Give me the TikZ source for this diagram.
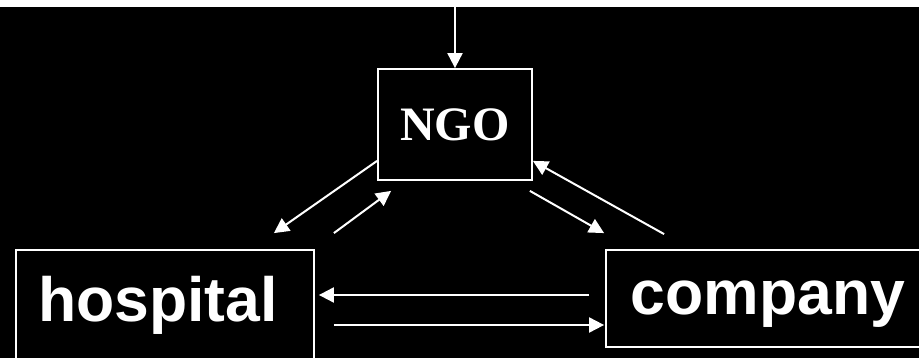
\documentclass[tikz,border=0pt]{standalone}
\usepackage{fontspec}
\setmainfont{Liberation Serif}
\setsansfont{Liberation Sans}
\usetikzlibrary{arrows.meta,positioning}
\tikzset{
	party/.style = {shape=rectangle, draw=white, line width=1.8pt, text=white, inner sep=0pt, text height=45pt, text depth=13pt, font=\sffamily\bfseries\fontsize{62.5}{70}\selectfont},
	link/.style = {draw=white, line width=2pt, -{Triangle[length=15pt,width=15pt]}}
}

\begin{document}
\begin{tikzpicture}[x=1pt, y=-1pt,
	node distance=2.5cm,
	ngo_style/.style={
	    shape=rectangle,
	    draw=white,
	    line width=1.8pt,
	    text=white,
	    font=\rmfamily\bfseries\fontsize{48}{56}\selectfont,
	    minimum width=154pt,
	    minimum height=111pt
	    }
	]
	% background
	\useasboundingbox (0,0) rectangle (919,358);
	\fill[white] (0,0) rectangle (919,7);
	\fill[black] (0,7) rectangle (919,358);

	% all the nodes
	\node[ngo_style] (ngo) at (455,124.5) {NGO};
	\node[party, on grid, minimum width=298pt, minimum height=112pt, below left=181.5pt and 290pt of ngo] (hospital) {hospital\hspace*{14pt}};
	\node[party, on grid, minimum width=324pt, minimum height=97pt, below right=174pt and 313pt of ngo] (company) {company};
	\coordinate (feed) at (455,7);

	\draw[link] (feed) -- (ngo.north);
	\draw[link] ([yshift=20pt]ngo.south west) -- ([xshift=-41pt,yshift=16pt]hospital.north east);
	\draw[link] ([xshift=19pt,yshift=16pt]hospital.north east) -- ([xshift=14pt,yshift=-10pt]ngo.south west);
	\draw[link] ([xshift=-3pt,yshift=-10pt]ngo.south east) -- ([xshift=-1pt,yshift=16pt]company.north west);
	\draw[link] ([xshift=59pt,yshift=15pt]company.north west) -- ([yshift=20pt]ngo.south east);
	\draw[link] ([xshift=-16pt,yshift=3.5pt]company.west) -- ([xshift=4pt,yshift=11pt]hospital.east);
	\draw[link] ([xshift=19pt,yshift=-19pt]hospital.east) -- ([xshift=-1pt,yshift=-26.5pt]company.west);
\end{tikzpicture}
\end{document}
